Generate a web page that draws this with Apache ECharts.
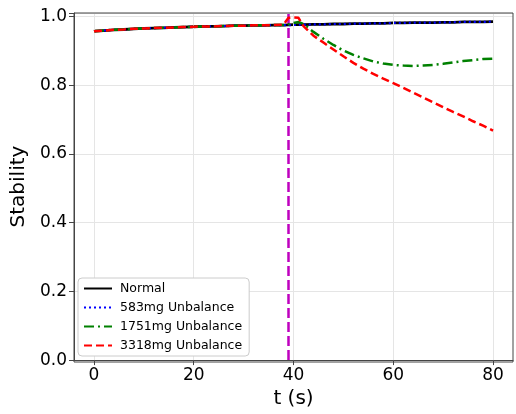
<!DOCTYPE html>
<html><head><meta charset="utf-8">
<script src="https://cdn.jsdelivr.net/npm/echarts@6/dist/echarts.min.js"></script>
<style>html,body{margin:0;padding:0;background:#fff}#c{width:516px;height:414px}</style>
</head><body><div id="c"></div>
<script>
var time = [0,2,4,6,8,10,12,14,16,18,20,22,24,26,28,30,32,34,36,38,39,40,41,42,44,46,48,50,52,54,56,58,60,62,64,66,68,70,72,74,76,78,80];
var normal = [0.957,0.959,0.961,0.962,0.964,0.965,0.966,0.967,0.968,0.969,0.970,0.971,0.971,0.972,0.973,0.973,0.974,0.974,0.975,0.975,0.9755,0.976,0.976,0.976,0.977,0.977,0.978,0.978,0.979,0.979,0.980,0.980,0.981,0.981,0.982,0.982,0.982,0.983,0.983,0.984,0.984,0.984,0.985];
var unb583 = [0.957,0.959,0.961,0.962,0.964,0.965,0.966,0.967,0.968,0.969,0.970,0.971,0.971,0.972,0.973,0.973,0.974,0.974,0.975,0.975,0.975,0.975,0.976,0.976,0.977,0.977,0.978,0.978,0.979,0.979,0.980,0.980,0.981,0.981,0.982,0.982,0.982,0.983,0.983,0.984,0.984,0.984,0.985];
var unb1751 = [0.957,0.959,0.961,0.962,0.964,0.965,0.966,0.967,0.968,0.969,0.970,0.971,0.971,0.972,0.973,0.973,0.974,0.974,0.975,0.975,0.977,0.981,0.984,0.978,0.955,0.935,0.917,0.901,0.888,0.878,0.869,0.863,0.859,0.857,0.856,0.857,0.859,0.862,0.866,0.870,0.873,0.876,0.877];
var unb3318 = [0.957,0.959,0.961,0.962,0.964,0.965,0.966,0.967,0.968,0.969,0.970,0.971,0.971,0.972,0.973,0.973,0.974,0.974,0.975,0.976,0.996,0.997,0.996,0.972,0.944,0.924,0.904,0.884,0.865,0.848,0.833,0.819,0.806,0.792,0.778,0.764,0.750,0.736,0.722,0.709,0.695,0.682,0.668];
var xTicks = [0,20,40,60,80];
var yTicks = [0,0.2,0.4,0.6,0.8,1.0];
var eventTime = 39;
var names = ['Normal','583mg Unbalance','1751mg Unbalance','3318mg Unbalance'];

function pairs(v){ return time.map(function(t,i){ return [t, v[i]]; }); }
var FONT = 'DejaVu Sans';
var chart = echarts.init(document.getElementById('c'));
var styles = [
  {color:'#000000', type:'solid', width:2.8},
  {color:'#0000ff', type:[2,3], width:2.2},
  {color:'#008000', type:[10,4,2,4], width:2.5},
  {color:'#ff0000', type:[8,4], width:2.5}
];
var datas = [normal, unb583, unb1751, unb3318];
var series = datas.map(function(d,i){
  return {
    name: names[i], type:'line', data: pairs(d), showSymbol:false, symbol:'none',
    lineStyle:{color:styles[i].color, width:styles[i].width, type:styles[i].type},
    itemStyle:{color:styles[i].color}, z: 3+i, animation:false
  };
});
series.push({
  type:'line', data:[], silent:true,
  markLine:{silent:true, symbol:['none','none'], label:{show:false}, animation:false,
    lineStyle:{color:'#e5e5e5', width:1, type:'solid'},
    data: xTicks.map(function(v){ return {xAxis:v}; })}, z:1
});
series.push({
  type:'line', data:[], silent:true, z:10,
  markLine:{silent:true, symbol:['none','none'], label:{show:false}, animation:false,
    lineStyle:{color:'#bf00bf', width:2.5, type:[10,4]},
    data:[{xAxis:eventTime}]}
});
chart.setOption({
  animation:false,
  backgroundColor:'#fff',
  grid:{left:74, right:3, top:13, bottom:52},
  legend:{
    show:true, z:50,
    data: names, orient:'vertical', left:78, top:278,
    itemWidth:28, itemHeight:12, itemGap:6,
    itemStyle:{opacity:0},
    backgroundColor:'#fff', borderColor:'#cccccc', borderWidth:1, borderRadius:4,
    padding:[4,7,4,5],
    textStyle:{fontFamily:FONT, fontSize:12.5, color:'#000', padding:[0,0,0,3]}
  },
  xAxis:{
    type:'value', min:-4, max:84,
    name:'t (s)', nameLocation:'middle', nameGap:26,
    nameTextStyle:{fontFamily:FONT, fontSize:20, color:'#000'},
    axisLine:{show:true, onZero:false, lineStyle:{color:'#444', width:1}},
    axisTick:{show:true, length:5, customValues:xTicks, lineStyle:{color:'#444'}},
    axisLabel:{customValues:xTicks, fontFamily:FONT, fontSize:17, color:'#000', margin:7},
    splitLine:{show:false}
  },
  yAxis:{
    type:'value', min:0, max:1.01, interval:0.2,
    name:'Stability', nameLocation:'middle', nameGap:39,
    nameTextStyle:{fontFamily:FONT, fontSize:20, color:'#000'},
    axisLine:{show:true, onZero:false, lineStyle:{color:'#444', width:1}},
    axisTick:{show:true, length:5, lineStyle:{color:'#444'}},
    axisLabel:{fontFamily:FONT, fontSize:17, color:'#000', margin:7,
      formatter:function(v){ var r=Math.round(v*5)/5; return Math.abs(r-v)<1e-6 ? r.toFixed(1) : ''; }},
    splitLine:{show:true, lineStyle:{color:'#e5e5e5', width:1}}
  },
  graphic:[{type:'rect', shape:{x:74, y:13, width:439, height:349}, style:{fill:'none', stroke:'#444', lineWidth:1}, z:100, silent:true}],
  series: series
});
</script></body></html>
